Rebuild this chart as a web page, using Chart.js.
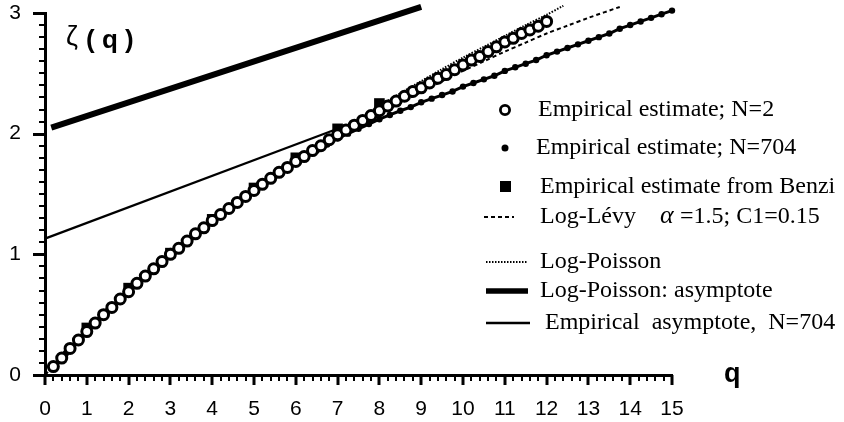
<!DOCTYPE html>
<html>
<head>
<meta charset="utf-8">
<script src="https://cdn.jsdelivr.net/npm/chart.js"></script>
<style>
  html, body { margin: 0; padding: 0; background: #fff; }
  #wrap { width: 844px; height: 422px; position: relative; }
</style>
</head>
<body>
<div id="wrap"><canvas id="zeta_chart" width="844" height="422"></canvas></div>
<script>
// values
var qN2 = [0.2,0.4,0.6,0.8,1.0,1.2,1.4,1.6,1.8,2.0,2.2,2.4,2.6,2.8,3.0,3.2,3.4,3.6,3.8,4.0,
           4.2,4.4,4.6,4.8,5.0,5.2,5.4,5.6,5.8,6.0,6.2,6.4,6.6,6.8,7.0,7.2,7.4,7.6,7.8,8.0,
           8.2,8.4,8.6,8.8,9.0,9.2,9.4,9.6,9.8,10.0,10.2,10.4,10.6,10.8,11.0,11.2,11.4,11.6,11.8,12.0];
var zetaN2 = [0.07,0.14,0.22,0.29,0.36,0.43,0.50,0.56,0.63,0.69,0.76,0.82,0.88,0.94,1.00,1.05,1.11,1.17,1.22,1.28,
              1.33,1.38,1.43,1.48,1.53,1.58,1.63,1.68,1.72,1.77,1.81,1.86,1.90,1.95,1.99,2.03,2.07,2.11,2.15,2.19,
              2.23,2.27,2.31,2.35,2.38,2.42,2.46,2.49,2.53,2.57,2.61,2.64,2.68,2.72,2.76,2.79,2.83,2.86,2.89,2.93];

var qN704 = [0.25,0.5,0.75,1,1.25,1.5,1.75,2,2.25,2.5,2.75,3,3.25,3.5,3.75,4,4.25,4.5,4.75,5,
             5.25,5.5,5.75,6,6.25,6.5,6.75,7,7.25,7.5,7.75,8,8.25,8.5,8.75,9,9.25,9.5,9.75,10,
             10.25,10.5,10.75,11,11.25,11.5,11.75,12,12.25,12.5,12.75,13,13.25,13.5,13.75,14,14.25,14.5,14.75,15];
var zetaN704 = [0.09,0.18,0.27,0.36,0.44,0.53,0.61,0.69,0.77,0.85,0.92,0.99,1.07,1.14,1.21,1.27,1.34,1.40,1.46,1.53,
                1.59,1.65,1.70,1.76,1.81,1.86,1.91,1.96,2.00,2.04,2.08,2.12,2.155,2.19,2.22,2.26,2.29,2.32,2.35,2.39,
                2.42,2.45,2.48,2.52,2.55,2.58,2.61,2.65,2.68,2.71,2.74,2.77,2.80,2.83,2.87,2.90,2.93,2.96,2.99,3.02];

var qBenzi = [1,2,3,4,5,6,7,8];
var zetaBenzi = [0.39,0.72,1.01,1.29,1.55,1.80,2.04,2.25];

var qLevy = [0,0.5,1,1.5,2,2.5,3,3.5,4,4.5,5,5.5,6,6.5,7,7.5,8,8.5,9,9.5,10,10.5,11,11.5,12,12.5,13,13.75];
var zetaLevy = [0,0.196,0.376,0.544,0.703,0.855,1.0,1.139,1.271,1.399,1.521,1.639,1.751,1.860,1.964,2.064,
                2.16,2.255,2.345,2.435,2.52,2.60,2.68,2.755,2.83,2.895,2.96,3.05];

var qPoisson = [0,0.5,1,1.5,2,2.5,3,3.5,4,4.5,5,5.5,6,6.5,7,7.5,8,8.5,9,9.5,10,10.5,11,11.5,12,12.4];
var zetaPoisson = [0,0.186,0.364,0.534,0.696,0.851,1.0,1.143,1.280,1.411,1.538,1.660,1.778,1.891,2.005,2.12,
                   2.23,2.335,2.435,2.535,2.63,2.72,2.81,2.90,2.985,3.06];

var qPoissonAsym = [0.15, 9];
var zetaPoissonAsym = [2.05, 3.05];

var qEmpAsym = [0, 7];
var zetaEmpAsym = [1.13, 2.04];

var xTicks = [0,1,2,3,4,5,6,7,8,9,10,11,12,13,14,15];
var yTicks = [0,1,2,3];
var xMinorStep = 0.2;
var yMinorStep = 0.1;

function pts(xs, ys) {
    return xs.map(function (x, i) { return {x: x, y: ys[i]}; });
}

var SERIF = '"Liberation Serif", "Times New Roman", serif';
var SANS = '"Liberation Sans", Arial, Helvetica, sans-serif';

var legendItems = [
    {kind: 'circle', y: 110, x: 538, text: 'Empirical estimate; N=2'},
    {kind: 'dot', y: 148, x: 536, text: 'Empirical estimate; N=704'},
    {kind: 'square', y: 187, x: 540, text: 'Empirical estimate from Benzi'},
    {kind: 'dash', y: 217, x: 540, text: 'Log-L\u00e9vy'},
    {kind: 'dot-line', y: 262, x: 540, text: 'Log-Poisson'},
    {kind: 'thick', y: 291, x: 540, text: 'Log-Poisson: asymptote'},
    {kind: 'thin', y: 323, x: 545, text: 'Empirical  asymptote,  N=704'}
];

// major + minor tick marks, outside the axes, placed through the chart scales
var tickMarks = {
    id: 'tickMarks',
    afterDraw: function (chart) {
        var c = chart.ctx;
        var xs = chart.scales.x, ys = chart.scales.y;
        var bottom = ys.getPixelForValue(0);
        var left = xs.getPixelForValue(0);
        c.save();
        c.fillStyle = '#000';
        var nx = Math.round(15 / xMinorStep);
        for (var i = 0; i <= nx; i++) {
            var major = i % 5 === 0;
            var px = Math.round(xs.getPixelForValue(i * xMinorStep));
            var w = major ? 3 : 2;
            c.fillRect(px - w / 2, bottom, w, major ? 10 : 6);
        }
        var ny = Math.round(3 / yMinorStep);
        for (var j = 0; j <= ny; j++) {
            var maj = j % 10 === 0;
            var py = Math.round(ys.getPixelForValue(j * yMinorStep));
            var len = maj ? 12 : 6;
            c.fillRect(left - len, py - 1, len, maj ? 3 : 2);
        }
        c.restore();
    }
};

var figureText = {
    id: 'figureText',
    afterDraw: function (chart) {
        var ctx = chart.ctx;
        ctx.save();
        ctx.fillStyle = '#000';
        ctx.strokeStyle = '#000';
        ctx.textBaseline = 'middle';

        legendItems.forEach(function (item) {
            var y = item.y;
            ctx.setLineDash([]);
            if (item.kind === 'circle') {
                ctx.lineWidth = 2.8;
                ctx.beginPath();
                ctx.arc(505, y, 4.6, 0, Math.PI * 2);
                ctx.stroke();
            } else if (item.kind === 'dot') {
                ctx.beginPath();
                ctx.arc(505, y, 3.5, 0, Math.PI * 2);
                ctx.fill();
            } else if (item.kind === 'square') {
                ctx.fillRect(500, y - 6, 11, 11);
            } else {
                var x0 = 484, x1 = 527, w = 2;
                if (item.kind === 'dash') { ctx.setLineDash([4, 3]); x1 = 514; }
                if (item.kind === 'dot-line') { ctx.setLineDash([1.5, 1.5]); x0 = 486; }
                if (item.kind === 'thick') { w = 5.5; x0 = 486; x1 = 528; }
                if (item.kind === 'thin') { w = 2.5; x0 = 486; x1 = 530; }
                ctx.lineWidth = w;
                ctx.beginPath();
                ctx.moveTo(x0, y);
                ctx.lineTo(x1, y);
                ctx.stroke();
            }
            ctx.setLineDash([]);
            ctx.font = '24px ' + SERIF;
            ctx.textAlign = 'left';
            ctx.fillText(item.text, item.x, y);
        });

        // alpha parameters after Log-Lévy
        ctx.font = 'italic 26px ' + SERIF;
        ctx.fillText('\u03b1', 660, 216);
        ctx.font = '24px ' + SERIF;
        ctx.fillText('=1.5; C1=0.15', 680, 217);

        // axis titles
        ctx.font = '27px ' + SANS;
        ctx.fillText('\u03b6', 66, 38);
        ctx.font = 'bold 26px ' + SANS;
        ctx.fillText('( q )', 86, 41);
        ctx.font = 'bold 27px ' + SANS;
        ctx.fillText('q', 724, 375);
        ctx.restore();
    }
};

var ctx_zeta = document.getElementById('zeta_chart').getContext('2d');
var zeta_chart = new Chart(ctx_zeta, {
    type: 'scatter',
    data: {
        datasets: [
            {
                label: 'Empirical estimate; N=2',
                data: pts(qN2, zetaN2),
                showLine: false,
                clip: 14,
                pointStyle: 'circle',
                pointRadius: 5,
                pointBorderWidth: 3,
                pointBorderColor: '#000',
                pointBackgroundColor: '#fff',
                order: 0
            },
            {
                label: 'Empirical estimate from Benzi',
                data: pts(qBenzi, zetaBenzi),
                showLine: false,
                clip: 14,
                pointStyle: 'rect',
                pointRadius: 7.5,
                pointBorderWidth: 0,
                pointBackgroundColor: '#000',
                order: 1
            },
            {
                label: 'Empirical estimate; N=704',
                data: pts(qN704, zetaN704),
                showLine: true,
                clip: 14,
                borderColor: '#000',
                borderWidth: 3,
                pointStyle: 'circle',
                pointRadius: 3.2,
                pointBorderWidth: 0,
                pointBackgroundColor: '#000',
                order: 2
            },
            {
                label: 'Log-Poisson',
                data: pts(qPoisson, zetaPoisson),
                showLine: true,
                clip: 14,
                borderColor: '#000',
                borderWidth: 2,
                borderDash: [1.5, 1.5],
                pointRadius: 0,
                tension: 0.3,
                order: 3
            },
            {
                label: 'Log-L\u00e9vy \u03b1 =1.5; C1=0.15',
                data: pts(qLevy, zetaLevy),
                showLine: true,
                clip: 14,
                borderColor: '#000',
                borderWidth: 2,
                borderDash: [4, 3],
                pointRadius: 0,
                tension: 0.3,
                order: 4
            },
            {
                label: 'Log-Poisson: asymptote',
                data: pts(qPoissonAsym, zetaPoissonAsym),
                showLine: true,
                clip: 14,
                borderColor: '#000',
                borderWidth: 6,
                pointRadius: 0,
                order: 5
            },
            {
                label: 'Empirical asymptote, N=704',
                data: pts(qEmpAsym, zetaEmpAsym),
                showLine: true,
                clip: 14,
                borderColor: '#000',
                borderWidth: 2.2,
                pointRadius: 0,
                order: 6
            }
        ]
    },
    options: {
        responsive: false,
        animation: false,
        layout: { padding: { top: 13, right: 172, left: 0, bottom: 0 } },
        plugins: {
            legend: { display: false },
            tooltip: { enabled: false }
        },
        scales: {
            x: {
                type: 'linear',
                min: 0,
                max: 15,
                afterFit: function (scale) {
                    scale.height = 47;
                    scale.paddingLeft = 0;
                    scale.paddingRight = 0;
                },
                afterBuildTicks: function (scale) {
                    scale.ticks = xTicks.map(function (v) { return {value: v}; });
                },
                grid: { display: false, drawTicks: false },
                border: { display: true, color: '#000', width: 3 },
                ticks: {
                    color: '#000',
                    padding: 22,
                    maxRotation: 0,
                    autoSkip: false,
                    font: { family: SANS, size: 21 }
                }
            },
            y: {
                type: 'linear',
                min: 0,
                max: 3,
                afterFit: function (scale) {
                    scale.width = 45;
                    scale.paddingTop = 0;
                    scale.paddingBottom = 0;
                },
                afterBuildTicks: function (scale) {
                    scale.ticks = yTicks.map(function (v) { return {value: v}; });
                },
                grid: { display: false, drawTicks: false },
                border: { display: true, color: '#000', width: 3 },
                ticks: {
                    color: '#000',
                    padding: 24,
                    font: { family: SANS, size: 21 }
                }
            }
        }
    },
    plugins: [tickMarks, figureText]
});
</script>
</body>
</html>
